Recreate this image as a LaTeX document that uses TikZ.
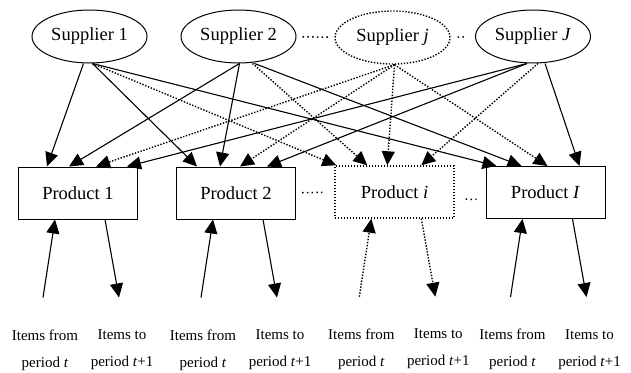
\documentclass[tikz,border=0pt]{standalone}
\usepackage{fontspec}
\setmainfont{Liberation Serif}
\usetikzlibrary{arrows.meta,shapes.geometric,positioning}

\def\slist{{(89.5,36.5)/s1/supplier/Supplier 1}, {(238.5,36.5)/s2/supplier/Supplier 2}, {(392.5,37.5)/sj/dotsupplier/Supplier \textit{j}}, {(533,36.5)/sJ/supplier/Supplier \textit{J}}}
\def\plist{{(78,193)/p1/product/Product 1}, {(236,193)/p2/product/Product 2}, {(394.5,192)/pi/dotproduct/Product \textit{i}}, {(545.5,192.5)/pI/product/Product \textit{I}}}
\tikzstyle{dotline}=[line width=1.4pt, dash pattern=on 1.4pt off 1.6pt]
\tikzstyle{supplier}=[ellipse, draw, line width=1pt, minimum width=115pt, minimum height=53pt, inner sep=0pt, font=\fontsize{18.5}{22}\selectfont]
\tikzstyle{dotsupplier}=[supplier, dotline]
\tikzstyle{product}=[rectangle, draw, line width=1pt, minimum width=119pt, minimum height=52pt, inner sep=0pt, font=\fontsize{18.5}{22}\selectfont]
\tikzstyle{dotproduct}=[product, dotline]
\tikzstyle{edge}=[draw, line width=1.1pt, -{Triangle[length=14pt,width=13pt]}]
\tikzstyle{dotedge}=[edge, dotline]
\tikzstyle{gap}=[draw, line width=1.5pt, dash pattern=on 1.5pt off 3.3pt]
\tikzstyle{item}=[align=center, inner sep=0pt, font=\fontsize{15}{27}\selectfont]

\begin{document}
\begin{tikzpicture}[x=1pt, y=-1pt]
  \useasboundingbox (0,0) rectangle (631,372);
  \foreach \pos/\name/\sty/\txt in \slist {
    \node[\sty] (\name) at \pos {\txt};
  }
  \foreach \pos/\name/\sty/\txt in \plist {
    \node[\sty] (\name) at \pos {\txt};
  }

  % dots between the nodes
  \path[gap, shorten <=6pt, shorten >=5pt] (s2) -- (sj);
  \path[gap, shorten <=7pt, shorten >=8pt] (sj) -- (sJ);
  \path[gap, shorten <=6pt, shorten >=12pt] (p2) -- (pi);
  \path[gap, shorten <=11pt, shorten >=9pt] ([yshift=-7pt]pi.east) -- ([yshift=-7pt]pI.west);

  \foreach \src/\sx/\dst/\dx/\sty in {s1/-6/p1/29/edge, s1/3/p2/21/edge, s1/3/pi/2/dotedge, s1/3/pI/11/edge,
      s2/1/p1/51/edge, s2/1/p2/44/edge, s2/14/pi/33/dotedge, s2/16/pI/36/edge,
      sj/2/p1/78/dotedge, sj/2/p2/64/dotedge, sj/2/pi/53/dotedge, sj/2/pI/62/dotedge,
      sJ/-6/p1/109/edge, sJ/-6/p2/91/edge, sJ/5/pi/87/dotedge, sJ/12/pI/94/edge} {
    \path[\sty] ([xshift=\sx pt]\src.south) -- ([xshift=\dx pt]\dst.north west);
  }

  \foreach \p/\sty in {p1/edge, p2/edge, pi/dotedge, pI/edge} {
    \coordinate (\p-from) at ([xshift=25pt,yshift=-78pt]\p.south west);
    \coordinate (\p-to) at ([xshift=101pt,yshift=-78pt]\p.south west);
    \path[\sty] (\p-from) -- ([xshift=37pt]\p.south west);
    \path[\sty] ([xshift=87pt]\p.south west) -- (\p-to);
    \node[item, below=32pt of \p-from, xshift=2pt] (\p-fromtxt) {Items from\\period \textit{t}};
    \node[item, below=32pt of \p-to, xshift=3pt] (\p-totxt) {Items to\\period \textit{t}+1};
  }
\end{tikzpicture}
\end{document}
